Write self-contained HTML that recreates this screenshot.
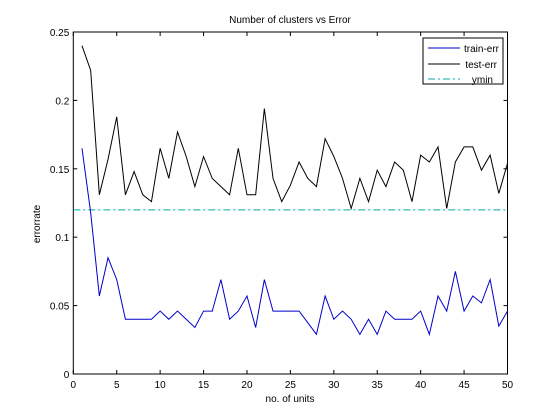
<!DOCTYPE html>
<html><head><meta charset="utf-8"><style>
html,body{margin:0;padding:0;background:#fff;}
svg{display:block;font-family:"Liberation Sans",Arial,sans-serif;}
</style></head><body>
<svg id="chart" width="560" height="420" viewBox="0 0 560 420" xmlns="http://www.w3.org/2000/svg">
<rect width="560" height="420" fill="#fff"/>
<text x="290" y="23" font-size="10" text-anchor="middle">Number of clusters vs Error</text>
<text x="290" y="402" font-size="10" text-anchor="middle">no. of units</text>
<text x="0" y="0" font-size="10" text-anchor="middle" transform="translate(40,224) rotate(-90)">errorrate</text>
<g id="plot"></g>
<g>
<rect x="423" y="38" width="80" height="46" fill="#fff" stroke="#000" stroke-width="1"/>
<line x1="428" y1="48" x2="460" y2="48" stroke="#0000cc"/>
<text x="499" y="52" font-size="10" text-anchor="end">train-err</text>
<line x1="428" y1="64" x2="460" y2="64" stroke="#000"/>
<text x="497" y="68" font-size="10" text-anchor="end">test-err</text>
<line x1="428" y1="79" x2="460" y2="79" stroke="#00aaaa" stroke-dasharray="7,3,2,3"/>
<text x="493" y="83" font-size="10" text-anchor="end">ymin</text>
</g>
</svg>
<script>
const units = [];
for (let i = 1; i <= 50; i++) units.push(i);
const trainErr = [0.165,0.118,0.057,0.085,0.069,0.040,0.040,0.040,0.040,0.046,0.040,0.046,0.040,0.034,0.046,0.046,0.069,0.040,0.046,0.057,0.034,0.069,0.046,0.046,0.046,0.046,0.0375,0.029,0.057,0.040,0.046,0.040,0.029,0.040,0.029,0.046,0.040,0.040,0.040,0.046,0.029,0.057,0.046,0.075,0.046,0.057,0.052,0.069,0.035,0.046];
const testErr = [0.240,0.222,0.131,0.157,0.188,0.131,0.148,0.131,0.126,0.165,0.143,0.177,0.159,0.137,0.159,0.143,0.137,0.131,0.165,0.131,0.131,0.194,0.143,0.126,0.138,0.155,0.143,0.137,0.172,0.159,0.143,0.121,0.143,0.126,0.149,0.137,0.155,0.149,0.126,0.160,0.155,0.166,0.121,0.155,0.166,0.166,0.149,0.160,0.132,0.154];
const yMin = 0.12;
const xTicks = [0,5,10,15,20,25,30,35,40,45,50];
const yTicks = [0,0.05,0.1,0.15,0.2,0.25];
const yTickLabels = ["0","0.05","0.1","0.15","0.2","0.25"];

const L=73.3,R=507.5,T=32,B=374;
const xs = v => L + (v-0)/(50-0)*(R-L);
const ys = v => B - v/0.25*(B-T);
const NS="http://www.w3.org/2000/svg";
const g=document.getElementById('plot');
function mk(tag,attrs){const e=document.createElementNS(NS,tag);for(const k in attrs)e.setAttribute(k,attrs[k]);g.appendChild(e);return e;}

const frame=mk('rect',{x:L,y:T,width:R-L,height:B-T,fill:'none',stroke:'#000','stroke-width':1});



xTicks.forEach(t=>{
  const x=xs(t);
  mk('line',{x1:x,y1:B,x2:x,y2:B-4,stroke:'#000'});
  mk('line',{x1:x,y1:T,x2:x,y2:T+4,stroke:'#000'});
  const tx=mk('text',{x:x,y:B+14,'font-size':10,'text-anchor':'middle'});
  tx.textContent=t;
  
  
});
yTicks.forEach((t,i)=>{
  const y=ys(t);
  mk('line',{x1:L,y1:y,x2:L+4,y2:y,stroke:'#000'});
  mk('line',{x1:R,y1:y,x2:R-4,y2:y,stroke:'#000'});
  const tx=mk('text',{x:L-4,y:y+4,'font-size':10,'text-anchor':'end'});
  tx.textContent=yTickLabels[i];
  
  
});

const ymline=mk('line',{x1:L,y1:ys(yMin),x2:R,y2:ys(yMin),stroke:'#00aaaa','stroke-dasharray':'7,3,2,3'});



const trainLine=mk('polyline',{points:units.map((u,i)=>xs(u)+','+ys(trainErr[i])).join(' '),fill:'none',stroke:'#0000cc','stroke-width':1});


const testLine=mk('polyline',{points:units.map((u,i)=>xs(u)+','+ys(testErr[i])).join(' '),fill:'none',stroke:'#000','stroke-width':1});


</script>
</body></html>
